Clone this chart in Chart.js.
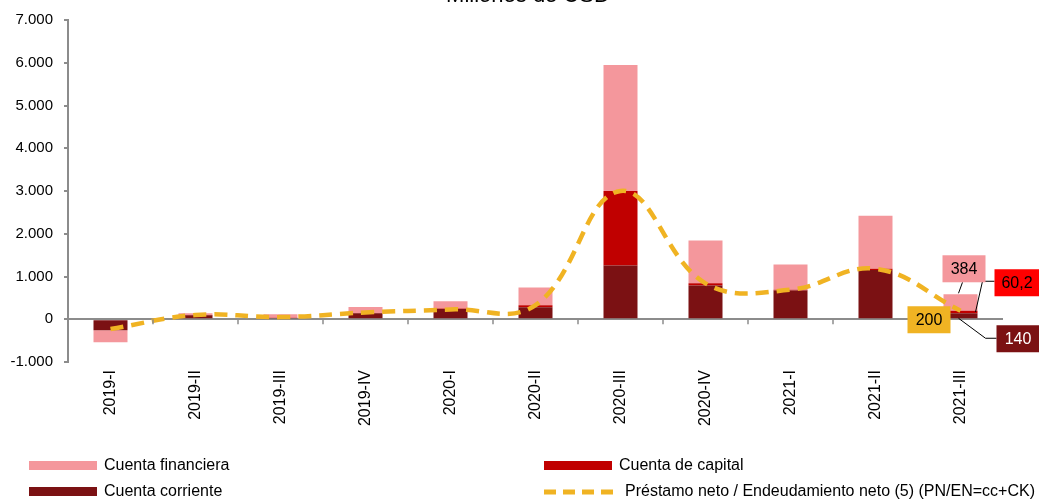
<!DOCTYPE html>
<html>
<head>
<meta charset="utf-8">
<script src="https://cdn.jsdelivr.net/npm/chart.js@4.4.0/dist/chart.umd.min.js"></script>
<style>
  html, body { margin: 0; padding: 0; background: #fff; }
  #wrap { width: 1039px; height: 502px; }
</style>
</head>
<body>
<div id="wrap"><canvas id="grafico"></canvas></div>
<script>
// datos (millones de USD)
const trimestres = ['2019-I', '2019-II', '2019-III', '2019-IV', '2020-I', '2020-II', '2020-III', '2020-IV', '2021-I', '2021-II', '2021-III'];
const cuentaCorriente = [-256, 95, 30, 140, 240, 280, 1255, 790, 670, 1150, 140];
const cuentaCapital = [0, 5, 5, 5, 10, 50, 1745, 50, 20, 30, 60.2];
const cuentaFinanciera = [-280, 40, 80, 140, 170, 410, 2950, 1000, 590, 1240, 384];
const prestamoNeto = [-230, 100, 50, 160, 230, 330, 3000, 840, 690, 1180, 200];
const ticksY = [-1000, 0, 1000, 2000, 3000, 4000, 5000, 6000, 7000];

const rosa = '#F4979C';
const rojo = '#C00000';
const granate = '#7B1113';
const amarillo = '#F0B323';
const gris = '#8C8C8C';

function miles(v) {
  const s = Math.abs(v).toString().replace(/\B(?=(\d{3})+(?!\d))/g, '.');
  return (v < 0 ? '-' : '') + s;
}

const extras = {
  id: 'extras',
  afterDatasetsDraw(chart) {
    const ctx = chart.ctx;
    const x = chart.scales.x;
    const y = chart.scales.y;
    const y0 = y.getPixelForValue(0);

    // marcas del eje x entre categorias
    ctx.save();
    ctx.strokeStyle = gris;
    ctx.lineWidth = 1.5;
    for (let i = 1; i < trimestres.length; i++) {
      const xm = (x.getPixelForValue(i - 1) + x.getPixelForValue(i)) / 2;
      ctx.beginPath();
      ctx.moveTo(xm, y0);
      ctx.lineTo(xm, y0 + 5);
      ctx.stroke();
    }
    ctx.restore();

    // etiquetas del ultimo trimestre
    const n = trimestres.length - 1;
    const px = x.getPixelForValue(n);
    const yTop = y.getPixelForValue(cuentaCorriente[n] + cuentaCapital[n] + cuentaFinanciera[n]);
    const yCap = y.getPixelForValue(cuentaCorriente[n] + cuentaCapital[n] / 2);
    const yCor = y.getPixelForValue(cuentaCorriente[n] / 2);

    ctx.save();
    ctx.strokeStyle = '#000';
    ctx.lineWidth = 1;
    ctx.beginPath();
    ctx.moveTo(px + 2, yTop - 12); ctx.lineTo(px - 2, yTop - 1);
    ctx.moveTo(px + 34, y0 - 38); ctx.lineTo(px + 22, y0 - 38); ctx.lineTo(px + 15, yCap);
    ctx.moveTo(px - 2, yCor + 2); ctx.lineTo(px + 25, y0 + 19); ctx.lineTo(px + 36, y0 + 19);
    ctx.stroke();

    const caja = (txt, bx, by, w, fondo, color) => {
      ctx.fillStyle = fondo;
      ctx.fillRect(bx, by, w, 27);
      ctx.fillStyle = color;
      ctx.font = '16px "Liberation Sans", Arial, sans-serif';
      ctx.textAlign = 'center';
      ctx.textBaseline = 'middle';
      ctx.fillText(txt, bx + w / 2, by + 14);
    };
    caja(cuentaFinanciera[n].toString(), px - 18, yTop - 39, 43, rosa, '#000');
    caja(cuentaCapital[n].toString().replace('.', ','), px + 34, y0 - 50, 45, '#FF0000', '#000');
    caja(prestamoNeto[n].toString(), px - 53, y0 - 13, 43, amarillo, '#000');
    caja(cuentaCorriente[n].toString(), px + 36, y0 + 6, 43, granate, '#fff');
    ctx.restore();
  },
  afterDraw(chart) {
    const ctx = chart.ctx;
    ctx.save();
    // titulo (recortado arriba en el original)
    ctx.fillStyle = '#000';
    ctx.font = '22px "Liberation Sans", Arial, sans-serif';
    ctx.textAlign = 'center';
    ctx.textBaseline = 'alphabetic';
    ctx.fillText('Millones de USD', 528, 1.5);

    // leyenda
    const ds = chart.data.datasets;
    const items = [
      { d: ds[2], x: 29, y: 466 },
      { d: ds[1], x: 544, y: 466 },
      { d: ds[0], x: 29, y: 492 },
      { d: ds[3], x: 544, y: 492 }
    ];
    ctx.font = '16px "Liberation Sans", Arial, sans-serif';
    ctx.textBaseline = 'middle';
    ctx.textAlign = 'left';
    items.forEach(it => {
      if (it.d.type === 'line') {
        ctx.strokeStyle = it.d.borderColor;
        ctx.lineWidth = 5;
        ctx.setLineDash([12, 7]);
        ctx.beginPath();
        ctx.moveTo(it.x, it.y);
        ctx.lineTo(it.x + 70, it.y);
        ctx.stroke();
        ctx.setLineDash([]);
        ctx.fillStyle = '#000';
        ctx.fillText(it.d.label, it.x + 81, it.y);
      } else {
        ctx.fillStyle = it.d.backgroundColor;
        ctx.fillRect(it.x, it.y - 5, 68, 9);
        ctx.fillStyle = '#000';
        ctx.fillText(it.d.label, it.x + 75, it.y);
      }
    });
    ctx.restore();
  }
};

new Chart(document.getElementById('grafico'), {
  data: {
    labels: trimestres,
    datasets: [
      { type: 'bar', label: 'Cuenta corriente', data: cuentaCorriente, backgroundColor: granate, stack: 'b', order: 1 },
      { type: 'bar', label: 'Cuenta de capital', data: cuentaCapital, backgroundColor: rojo, stack: 'b', order: 1 },
      { type: 'bar', label: 'Cuenta financiera', data: cuentaFinanciera, backgroundColor: rosa, stack: 'b', order: 1 },
      {
        type: 'line', label: 'Préstamo neto / Endeudamiento neto (5) (PN/EN=cc+CK)', data: prestamoNeto,
        borderColor: amarillo, borderWidth: 4.5, borderDash: [13, 8], pointRadius: 0,
        tension: 0.4, fill: false, stack: 'pn', order: 0
      }
    ]
  },
  options: {
    responsive: true,
    maintainAspectRatio: false,
    animation: false,
    layout: { padding: { left: 0, right: 36, top: 19, bottom: 65 } },
    datasets: { bar: { barPercentage: 0.4, categoryPercentage: 1 } },
    plugins: { legend: { display: false }, tooltip: { enabled: false } },
    scales: {
      x: {
        stacked: true,
        grid: { display: false },
        border: { display: false },
        ticks: {
          color: '#000', minRotation: 90, maxRotation: 90, padding: 0,
          font: { family: '"Liberation Sans", Arial, sans-serif', size: 16 }
        },
        afterFit(s) { s.height = 75; }
      },
      y: {
        stacked: true,
        min: -1000,
        max: 7000,
        afterBuildTicks(s) { s.ticks = ticksY.map(v => ({ value: v })); },
        grid: {
          color: c => (c.tick && c.tick.value === 0 ? gris : 'transparent'),
          lineWidth: 2,
          tickColor: gris,
          tickLength: 4
        },
        border: { display: true, color: gris, width: 2 },
        ticks: {
          color: '#000', padding: 11,
          font: { family: '"Liberation Sans", Arial, sans-serif', size: 15 },
          callback: v => miles(v)
        },
        afterFit(s) { s.width = 68; }
      }
    }
  },
  plugins: [extras]
});
</script>
</body>
</html>
